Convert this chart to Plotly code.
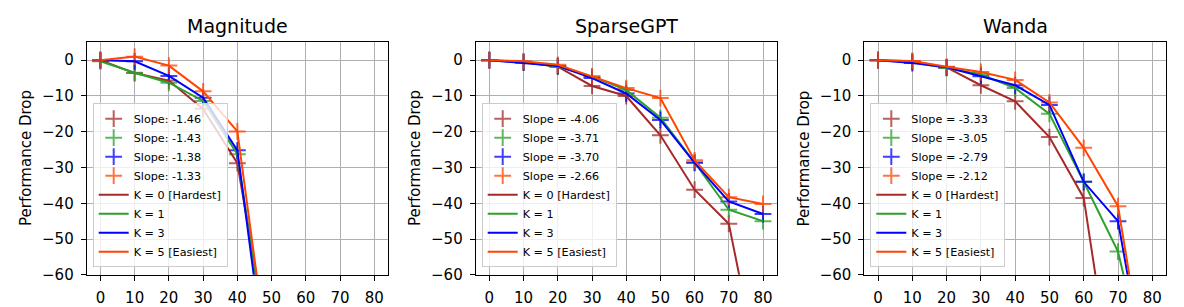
import plotly.graph_objects as go

# ---------------- data ----------------
sparsity = [0, 10, 20, 30, 40, 50, 60, 70, 80]
k_labels = ["K = 0 [Hardest]", "K = 1", "K = 3", "K = 5 [Easiest]"]
colors = ["#a52a2a", "#2ca02c", "#0000ff", "#ff4500"]

panel_titles = ["Magnitude", "SparseGPT", "Wanda"]
y_title = "Performance Drop"

mag_k0 = [0.0, -3.6, -5.7, -13.6, -28.8, -85.0]
mag_k1 = [-0.3, -3.5, -6.3, -11.4, -26.3, -90.0]
mag_k3 = [0.0, -0.3, -4.4, -10.5, -25.2, -98.0]
mag_k5 = [0.0, 1.0, -1.5, -8.7, -19.9, -91.0]
mag_slopes = ["Slope: -1.46", "Slope: -1.43", "Slope: -1.38", "Slope: -1.33"]

sgpt_k0 = [0.0, -0.5, -1.8, -7.2, -10.0, -21.0, -36.2, -45.7, -93.0]
sgpt_k1 = [0.0, -0.5, -1.8, -4.6, -8.3, -16.1, -28.6, -41.8, -45.0]
sgpt_k3 = [0.0, -0.7, -1.6, -5.0, -9.3, -16.7, -28.7, -39.5, -43.0]
sgpt_k5 = [0.0, -0.3, -1.3, -4.5, -7.8, -10.6, -28.0, -38.3, -40.2]
sgpt_slopes = ["Slope = -4.06", "Slope = -3.71", "Slope = -3.70", "Slope = -2.66"]

wanda_k0 = [0.0, -0.3, -2.0, -7.0, -11.5, -21.5, -38.5, -101.5]
wanda_k1 = [0.0, -0.5, -2.2, -4.0, -7.8, -15.0, -34.0, -53.5, -94.0]
wanda_k3 = [0.0, -0.8, -2.0, -4.5, -7.0, -12.5, -34.0, -45.0, -98.6]
wanda_k5 = [0.0, -0.2, -1.8, -3.3, -5.5, -11.8, -24.5, -40.8, -99.0]
wanda_slopes = ["Slope = -3.33", "Slope = -3.05", "Slope = -2.79", "Slope = -2.12"]

x_ticks = [0, 10, 20, 30, 40, 50, 60, 70, 80]
y_ticks = [0, -10, -20, -30, -40, -50, -60]

panels = [
    ([mag_k0, mag_k1, mag_k3, mag_k5], mag_slopes),
    ([sgpt_k0, sgpt_k1, sgpt_k3, sgpt_k5], sgpt_slopes),
    ([wanda_k0, wanda_k1, wanda_k3, wanda_k5], wanda_slopes),
]

# ---------------- layout geometry ----------------
W, H = 1184, 307
x_domains = [(86.7, 388.0), (475.7, 776.7), (864.3, 1166.0)]
y_top, y_bot = 43.3, 286.0
FONT = "DejaVu Sans"


def px_x(v):
    return v / W


def px_y(v):
    return 1 - v / H


fig = go.Figure()

for i, (series, slopes) in enumerate(panels):
    ax = "" if i == 0 else str(i + 1)
    leg = "legend" if i == 0 else "legend" + str(i + 1)
    for s, col, lab in zip(series, colors, slopes):
        fig.add_trace(go.Scatter(
            x=sparsity[:len(s)], y=s, mode="markers", name=lab,
            xaxis="x" + ax, yaxis="y" + ax, legend=leg,
            marker=dict(symbol="cross-thin", size=12, color=col, opacity=0.75,
                        line=dict(color=col, width=2)),
        ))
    for s, col, lab in zip(series, colors, k_labels):
        fig.add_trace(go.Scatter(
            x=sparsity[:len(s)], y=s, mode="lines", name=lab,
            xaxis="x" + ax, yaxis="y" + ax, legend=leg,
            line=dict(color=col, width=2),
        ))

layout = dict(
    width=W, height=H,
    margin=dict(l=0, r=0, t=0, b=0),
    paper_bgcolor="white", plot_bgcolor="white",
    font=dict(family=FONT, color="black", size=15),
    showlegend=True,
    annotations=[],
)

axis_common = dict(
    showline=True, mirror=True, linecolor="black", linewidth=1,
    showgrid=True, gridcolor="#b0b0b0", gridwidth=1,
    ticks="outside", ticklen=5, tickwidth=1, tickcolor="black",
    zeroline=False, tickfont=dict(family=FONT, size=15, color="black"),
    ticklabelstandoff=4,
)

for i in range(3):
    ax = "" if i == 0 else str(i + 1)
    x0, x1 = x_domains[i]
    layout["xaxis" + ax] = dict(
        axis_common, domain=[px_x(x0), px_x(x1)], range=[-4, 84],
        tickvals=x_ticks, anchor="y" + ax,
    )
    layout["yaxis" + ax] = dict(
        axis_common, domain=[px_y(y_bot), px_y(y_top)], range=[-60, 5.2],
        tickvals=y_ticks, anchor="x" + ax,
    )
    leg = "legend" if i == 0 else "legend" + str(i + 1)
    layout[leg] = dict(
        x=px_x(x0 + 6), y=px_y(y_bot - 8), xanchor="left", yanchor="bottom",
        xref="paper", yref="paper",
        bgcolor="rgba(255,255,255,0.8)", bordercolor="#cccccc", borderwidth=1,
        font=dict(family=FONT, size=11.2, color="black"),
        tracegroupgap=0, itemwidth=30,
    )
    layout["annotations"].append(dict(
        text=panel_titles[i], x=px_x((x0 + x1) / 2), y=px_y(y_top - 3),
        xref="paper", yref="paper", xanchor="center", yanchor="bottom",
        showarrow=False, font=dict(family=FONT, size=19, color="black"),
    ))
    layout["annotations"].append(dict(
        text=y_title, x=px_x(x0 - 60), y=px_y((y_top + y_bot) / 2),
        xref="paper", yref="paper", xanchor="center", yanchor="middle",
        textangle=-90, showarrow=False,
        font=dict(family=FONT, size=15, color="black"),
    ))

fig.update_layout(**layout)
fig.write_html(
    "out.html",
    config={"displayModeBar": False},
    post_script="document.body.style.margin='0px';document.body.style.overflow='hidden';",
)
